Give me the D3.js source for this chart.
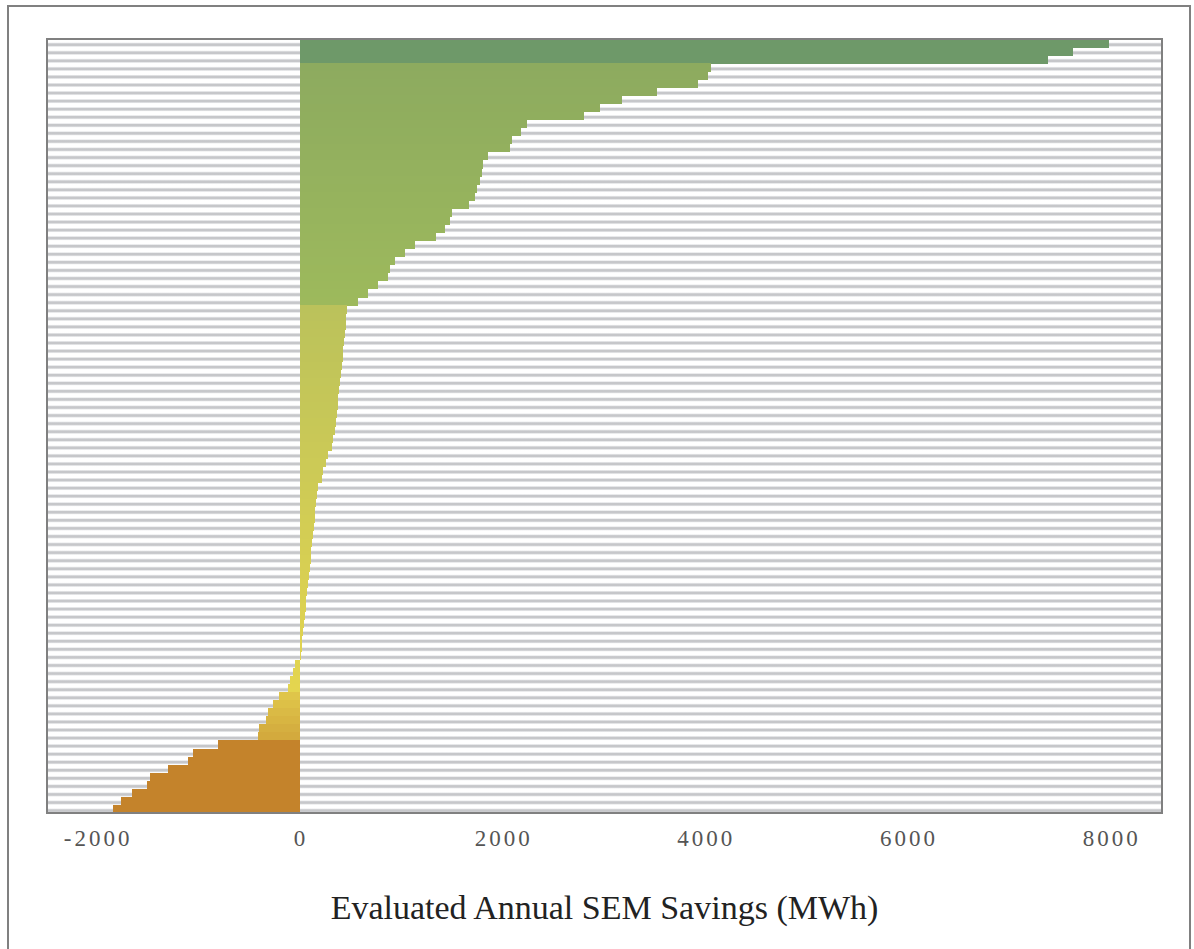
<!DOCTYPE html>
<html lang="en">

<head>
  <meta charset="utf-8">
  <title>Evaluated Annual SEM Savings</title>
  <script type="text/javascript" src="https://cdn.jsdelivr.net/npm/d3@7"></script>

  <style>
    body {
      margin: 0;
      background: #fff;
    }

    .axis path,
    .axis line {
      display: none;
    }

    .axis text {
      font-family: "Liberation Serif", "DejaVu Serif", serif;
      font-variant-numeric: oldstyle-nums;
      font-size: 23px;
      letter-spacing: 3px;
      fill: #555;
    }

    .title {
      font-family: "Liberation Serif", "DejaVu Serif", serif;
      font-size: 34px;
      fill: #222;
    }

    .frame {
      fill: none;
      stroke: #808080;
      stroke-width: 2;
    }
  </style>
</head>

<body>

  <script type="text/javascript">

    //Width and height
    var w = 1194;
    var h = 949;

    var plot = { left: 47, right: 1162, top: 39, bottom: 813 };

    // one row per project, sorted by savings (MWh)
    var projects = d3.range(1, 97).map(function (i) { return "P" + i; });

    var savings = [
      7975, 7625, 7375, 4050, 4020, 3925, 3520, 3175, 2955, 2800,
      2235, 2175, 2090, 2070, 1855, 1805, 1790, 1770, 1740, 1725,
      1665, 1495, 1475, 1425, 1335, 1130, 1030, 935, 885, 865,
      770, 670, 570, 457, 452, 447, 440, 432, 424, 417,
      407, 400, 391, 384, 374, 366, 358, 351, 341, 325,
      309, 275, 253, 226, 210, 177, 165, 155, 148, 140,
      132, 122, 115, 108, 100, 92, 84, 76, 68, 60,
      52, 44, 36, 28, 20, 12, 5, -55, -75, -105,
      -120, -210, -270, -320, -340, -410, -420, -810, -1060, -1110,
      -1310, -1480, -1510, -1660, -1770, -1850
    ];

    var xTicks = [-2000, 0, 2000, 4000, 6000, 8000];
    var xDomain = [-2500, 8500];
    var xTitle = "Evaluated Annual SEM Savings (MWh)";

    var dataset = projects.map(function (p, i) {
      return { project: p, value: savings[i] };
    });

    //Scales
    var xScale = d3.scaleLinear()
      .domain(xDomain)
      .range([plot.left, plot.right]);

    var yScale = d3.scaleBand()
      .domain(projects)
      .range([plot.top, plot.bottom]);

    // colour bands by savings level, shaded down each band
    var bands = [
      { min: 5000, max: Infinity, from: "#6e9969", to: "#6e9969" },
      { min: 500, max: 5000, from: "#8dab5f", to: "#9db95c" },
      { min: -150, max: 500, from: "#bbc25b", to: "#e4d54f" },
      { min: -500, max: -150, from: "#dfc54a", to: "#d3aa3d" },
      { min: -Infinity, max: -500, from: "#c4832b", to: "#c4832b" }
    ];

    bands.forEach(function (b) {
      b.rows = dataset.filter(function (d) { return d.value >= b.min && d.value < b.max; });
      b.color = d3.scaleLinear()
        .domain([0, Math.max(1, b.rows.length - 1)])
        .range([b.from, b.to])
        .interpolate(d3.interpolateRgb);
      b.rows.forEach(function (d, i) { d.color = b.color(i); });
    });

    //Create SVG element
    var svg = d3.select("body")
      .append("svg")
      .attr("width", w)
      .attr("height", h);

    // outer frame
    svg.append("rect")
      .attr("class", "frame")
      .attr("x", 8)
      .attr("y", 6)
      .attr("width", 1182)
      .attr("height", 980);

    // striped row backgrounds
    var grad = svg.append("defs")
      .append("linearGradient")
      .attr("id", "stripe")
      .attr("x1", 0).attr("y1", 0)
      .attr("x2", 0).attr("y2", 1);

    [[0, "#ffffff"], [0.4, "#ffffff"], [0.5, "#e8e9eb"], [0.6, "#c6c7ca"],
     [0.8, "#c6c7ca"], [0.9, "#e4e5e7"], [1, "#fbfbfb"]].forEach(function (s) {
      grad.append("stop")
        .attr("offset", s[0])
        .attr("stop-color", s[1]);
    });

    svg.append("g")
      .selectAll("rect")
      .data(dataset)
      .enter()
      .append("rect")
      .attr("x", plot.left)
      .attr("y", function (d) { return yScale(d.project); })
      .attr("width", plot.right - plot.left)
      .attr("height", yScale.bandwidth())
      .attr("fill", "url(#stripe)");

    //Bars
    svg.append("g")
      .selectAll("rect")
      .data(dataset)
      .enter()
      .append("rect")
      .attr("x", function (d) { return xScale(Math.min(0, d.value)); })
      .attr("y", function (d) { return yScale(d.project); })
      .attr("width", function (d) { return Math.abs(xScale(d.value) - xScale(0)); })
      .attr("height", yScale.bandwidth() + 0.5)
      .attr("fill", function (d) { return d.color; })
      .attr("shape-rendering", "crispEdges");

    // plot border
    svg.append("rect")
      .attr("class", "frame")
      .attr("x", plot.left)
      .attr("y", plot.top)
      .attr("width", plot.right - plot.left)
      .attr("height", plot.bottom - plot.top);

    //X axis, plain hyphen for negatives
    var xAxis = d3.axisBottom()
      .scale(xScale)
      .tickValues(xTicks)
      .tickSize(0)
      .tickPadding(17)
      .tickFormat(function (d) { return String(d); });

    svg.append("g")
      .attr("class", "axis")
      .attr("transform", "translate(0," + plot.bottom + ")")
      .call(xAxis);

    svg.append("text")
      .attr("class", "title")
      .attr("x", (plot.left + plot.right) / 2)
      .attr("y", 919)
      .attr("text-anchor", "middle")
      .text(xTitle);

  </script>
</body>

</html>
